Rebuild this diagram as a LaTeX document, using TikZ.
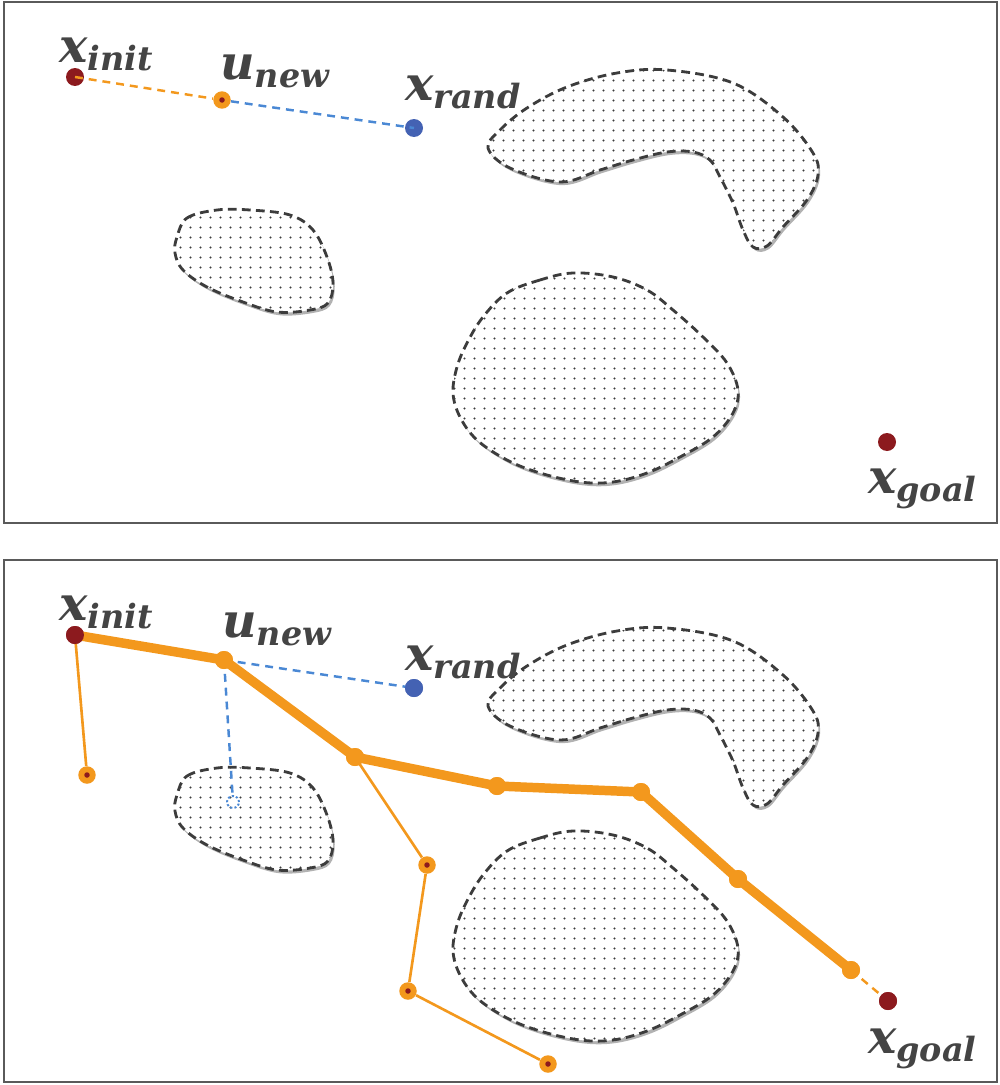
\documentclass[tikz,border=0pt]{standalone}
\usepackage{fontspec}
\newfontfamily\labfont{DejaVu Serif}
\usetikzlibrary{patterns.meta,shadows}
\definecolor{orng}{HTML}{F3981D}
\definecolor{dred}{HTML}{8C1A1E}
\definecolor{bdot}{HTML}{4462B3}
\definecolor{bline}{HTML}{4A88D4}
\definecolor{txt}{HTML}{444444}
\definecolor{frm}{HTML}{5A5A5A}
\definecolor{obl}{HTML}{3C3C3C}
\newcommand{\sublab}[1]{\raisebox{-5pt}{\fontsize{19}{20}\selectfont #1}}
\tikzset{
  panel/.style={draw=frm, line width=1.4pt},
  obst/.style={drop shadow={shadow xshift=1.0pt, shadow yshift=-1.8pt, opacity=0.3, fill=black},
    preaction={fill=white},
    pattern={Dots[distance=5.4pt, radius=0.7pt]}, pattern color=obl,
    draw=obl, line width=1.6pt, dash pattern=on 5pt off 3pt},
  redpt/.style={circle, fill=dred, inner sep=0pt, minimum size=0.36cm},
  bluept/.style={circle, fill=bdot, inner sep=0pt, minimum size=0.36cm},
  orpt/.style={circle, fill=orng, inner sep=0pt, minimum size=0.35cm,
    path picture={\fill[dred] (path picture bounding box.center) circle (0.055cm);}},
  pathpt/.style={circle, fill=orng, inner sep=0pt, minimum size=0.36cm},
  miss/.style={circle, draw=bline, line width=1.1pt, dash pattern=on 1.2pt off 1.2pt, inner sep=0pt, minimum size=0.24cm},
  lab/.style={font=\labfont\bfseries\itshape\fontsize{27}{30}\selectfont, text=txt, inner sep=0pt, anchor=base west},
  thick path/.style={draw=orng, line width=5.4pt, line join=round},
  thin path/.style={draw=orng, line width=1.5pt},
  orange dash/.style={draw=orng, line width=1.4pt, dash pattern=on 4.5pt off 3.4pt},
  blue dash/.style={draw=bline, line width=1.4pt, dash pattern=on 4.5pt off 3.4pt},
}
\begin{document}
\begin{tikzpicture}[x=0.02cm, y=-0.02cm]
\useasboundingbox (0,0) rectangle (1000,1085);
\draw[panel] (4,2) rectangle (997,523);
\draw[panel] (4,560) rectangle (997,1082);

% obstacles, both panels
\foreach \dy in {0,558}{
\begin{scope}[yshift=-\dy*0.02cm]
\path[obst] plot[smooth cycle, tension=0.6] coordinates {
 (488,148) (500,130) (527,108) (567,87) (617,73) (667,70) (733,83) (783,117) (813,153)
 (818,175) (807,200) (783,227) (767,246) (753,247) (743,230) (733,203) (720,177)
 (710,160) (693,152) (667,152) (633,160) (600,170) (560,182) (510,168)};
\path[obst] plot[smooth cycle, tension=0.6] coordinates {
 (177,237) (187,218) (217,210) (250,210) (290,215) (313,230) (327,257) (333,283)
 (328,303) (310,310) (277,312) (243,302) (207,287) (183,270) (175,253)};
\path[obst] plot[smooth cycle, tension=0.6] coordinates {
 (573,273) (540,280) (507,293) (483,317) (467,343) (457,367) (453,393) (460,417)
 (477,440) (507,460) (540,473) (580,482) (613,482) (647,473) (680,457) (713,437)
 (733,413) (738,390) (727,363) (703,337) (673,310) (647,290) (613,277)};
\end{scope}}

% ---------- top panel ----------
\node[redpt] (ti) at (75,77) {};
\node[orpt] (tu) at (222,100) {};
\node[bluept] (tr) at (414,128) {};
\node[redpt] (tg) at (887,442) {};
\draw[orange dash] (ti.center) -- (tu);
\draw[blue dash] (tu) -- (tr.center);
\node[lab] (tli) at (59,62) {x\sublab{init}};
\node[lab] (tlu) at (220,79) {u\sublab{new}};
\node[lab] (tlr) at (405,100) {x\sublab{rand}};
\node[lab] (tlg) at (868,493) {x\sublab{goal}};

% ---------- bottom panel ----------
\node[redpt] (bi) at (75,635) {};
\node[pathpt] (b1) at (224,660) {};
\node[pathpt] (b2) at (355,757) {};
\node[pathpt] (b3) at (497,786) {};
\node[pathpt] (b4) at (641,792) {};
\node[pathpt] (b5) at (738,879) {};
\node[pathpt] (b6) at (851,970) {};
\node[redpt] (bg) at (888,1001) {};
\node[bluept] (br) at (414,688) {};
\node[orpt] (c1) at (87,775) {};
\node[orpt] (c2) at (427,865) {};
\node[orpt] (c3) at (408,991) {};
\node[orpt] (c4) at (548,1064) {};
\node[miss] (bm) at (233,802) {};

\draw[blue dash] (b1.center) -- (br.center);
\draw[blue dash] (b1.center) -- (bm);
\draw[thin path] (bi.center) -- (c1);
\draw[thin path] (b2.center) -- (c2) -- (c3) -- (c4);
\draw[orange dash] (b6.center) -- (bg.center);
\draw[thick path] (bi.center) -- (b1.center) -- (b2.center) -- (b3.center) -- (b4.center) -- (b5.center) -- (b6.center);
\foreach \n in {b1,b2,b3,b4,b5,b6}{\node[pathpt] at (\n) {};}
\node[redpt] at (bi) {};
\node[redpt] at (bg) {};
\node[bluept] at (br) {};

\node[lab] (bli) at (59,620) {x\sublab{init}};
\node[lab] (blu) at (222,637) {u\sublab{new}};
\node[lab] (blr) at (405,670) {x\sublab{rand}};
\node[lab] (blg) at (868,1053) {x\sublab{goal}};
\end{tikzpicture}
\end{document}
